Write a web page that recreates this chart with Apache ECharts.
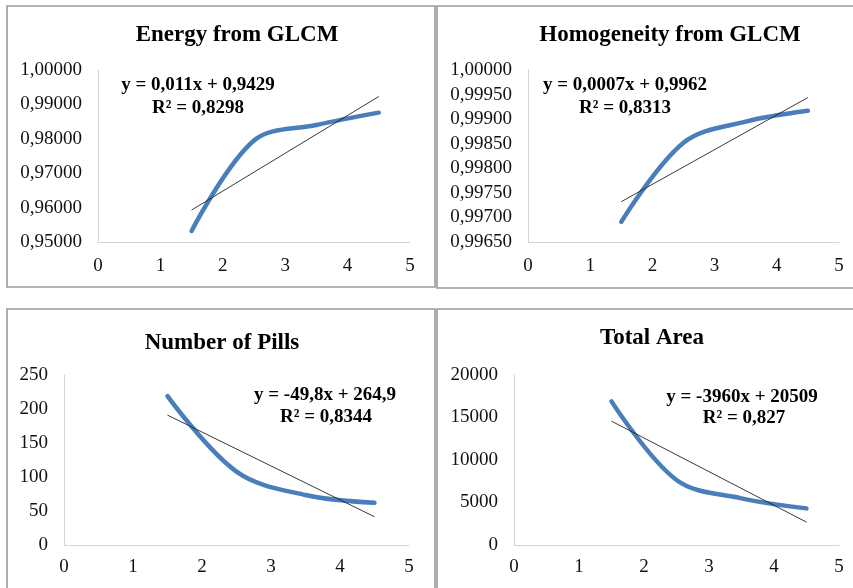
<!DOCTYPE html>
<html>
<head>
<meta charset="utf-8">
<script src="https://cdn.jsdelivr.net/npm/echarts@6/dist/echarts.min.js"></script>
<style>
html,body{margin:0;padding:0;background:#fff;}
#c{width:853px;height:588px;}
</style>
</head>
<body>
<div id="c"></div>
<script>
// ---- data ----
var xValues = [1.5, 2.5, 3.5, 4.5];
var energy = [0.9532, 0.9795, 0.9840, 0.9876];
var homogeneity = [0.99691, 0.99852, 0.99895, 0.99917];
var pills = [219, 108, 73.5, 62];
var totalArea = [16900, 7650, 5490, 4310];

var trendX = [1.5, 4.5];
var energyTrend = [0.9593, 0.9923];
var homogeneityTrend = [0.99732, 0.99944];
var pillsTrend = [191, 41.5];
var areaTrend = [14569, 2689];

var titles = ['Energy from GLCM', 'Homogeneity from GLCM', 'Number of Pills', 'Total Area'];
var equations = ['y = 0,011x + 0,9429', 'y = 0,0007x + 0,9962', 'y = -49,8x + 264,9', 'y = -3960x + 20509'];
var rSquared = ['R² = 0,8298', 'R² = 0,8313', 'R² = 0,8344', 'R² = 0,827'];
var xTicks = [0, 1, 2, 3, 4, 5];

function pairs(xs, ys){ return ys.map(function(v,i){ return [xs[i], v]; }); }

var FONT = 'Liberation Serif';
var BLUE = '#4A7EBB';
var AX = '#D4D4D4';

var grids = [
  {left: 98, top: 70, width: 312, height: 172},
  {left: 528, top: 70, width: 311, height: 172},
  {left: 64, top: 375, width: 345, height: 170},
  {left: 514, top: 375, width: 325, height: 170}
];

function xAxis(i){
  return {
    type: 'value', gridIndex: i, min: xTicks[0], max: xTicks[xTicks.length-1], interval: 1,
    axisLine: {show: true, lineStyle: {color: AX, width: 1}},
    axisTick: {show: false}, splitLine: {show: false},
    axisLabel: {fontFamily: FONT, fontSize: 19, color: '#111', margin: i < 2 ? 15 : 13}
  };
}
function yAxis(i, min, max, interval, dec){
  return {
    type: 'value', gridIndex: i, min: min, max: max, interval: interval,
    axisLine: {show: true, lineStyle: {color: AX, width: 1}},
    axisTick: {show: false}, splitLine: {show: false},
    axisLabel: {fontFamily: FONT, fontSize: 19, color: '#111', margin: 16,
      formatter: function(v){ return v.toFixed(dec).replace('.', ','); }}
  };
}

var seriesData = [energy, homogeneity, pills, totalArea];
var trendData = [energyTrend, homogeneityTrend, pillsTrend, areaTrend];
var series = [];
for (var i = 0; i < 4; i++) {
  series.push({
    type: 'line', xAxisIndex: i, yAxisIndex: i, data: pairs(xValues, seriesData[i]),
    smooth: 0.35, showSymbol: false, symbol: 'none',
    lineStyle: {color: BLUE, width: 4.5, cap: 'round'}, z: 3, animation: false
  });
  series.push({
    type: 'line', xAxisIndex: i, yAxisIndex: i, data: pairs(trendX, trendData[i]),
    showSymbol: false, symbol: 'none',
    lineStyle: {color: '#222', width: 0.9}, z: 4, animation: false
  });
}

var panels = [
  {x: 7, y: 6, w: 428, h: 281},
  {x: 437, y: 6, w: 430, h: 282},
  {x: 7, y: 309, w: 428, h: 300},
  {x: 437, y: 309, w: 430, h: 300}
];
var titlePos = [[237, 35], [670, 35], [222, 343], [652, 338]];
var eqPos = [[198, 85], [625, 85], [325, 395], [742, 397]];
var r2Pos = [[198, 108], [625, 108], [326, 417], [744, 418]];

var graphics = [];
panels.forEach(function(p){
  graphics.push({type: 'rect', shape: {x: p.x, y: p.y, width: p.w, height: p.h},
    style: {fill: null, stroke: '#9A9A9A', lineWidth: 1.6}, z: 1});
});
for (var k = 0; k < 4; k++) {
  graphics.push({type: 'text', x: titlePos[k][0], y: titlePos[k][1],
    style: {text: titles[k], font: 'bold 23px "Liberation Serif"', fill: '#000', textAlign: 'center', textVerticalAlign: 'middle'}, z: 10});
  graphics.push({type: 'text', x: eqPos[k][0], y: eqPos[k][1],
    style: {text: equations[k], font: 'bold 19px "Liberation Serif"', fill: '#000', textAlign: 'center', textVerticalAlign: 'middle'}, z: 10});
  graphics.push({type: 'text', x: r2Pos[k][0], y: r2Pos[k][1],
    style: {text: rSquared[k], font: 'bold 19px "Liberation Serif"', fill: '#000', textAlign: 'center', textVerticalAlign: 'middle'}, z: 10});
}

var chart = echarts.init(document.getElementById('c'), null, {renderer: 'canvas'});
chart.setOption({
  backgroundColor: '#fff',
  animation: false,
  grid: grids,
  xAxis: [xAxis(0), xAxis(1), xAxis(2), xAxis(3)],
  yAxis: [
    yAxis(0, 0.95, 1.0, 0.01, 5),
    yAxis(1, 0.9965, 1.0, 0.0005, 5),
    yAxis(2, 0, 250, 50, 0),
    yAxis(3, 0, 20000, 5000, 0)
  ],
  series: series,
  graphic: graphics
});
</script>
</body>
</html>
